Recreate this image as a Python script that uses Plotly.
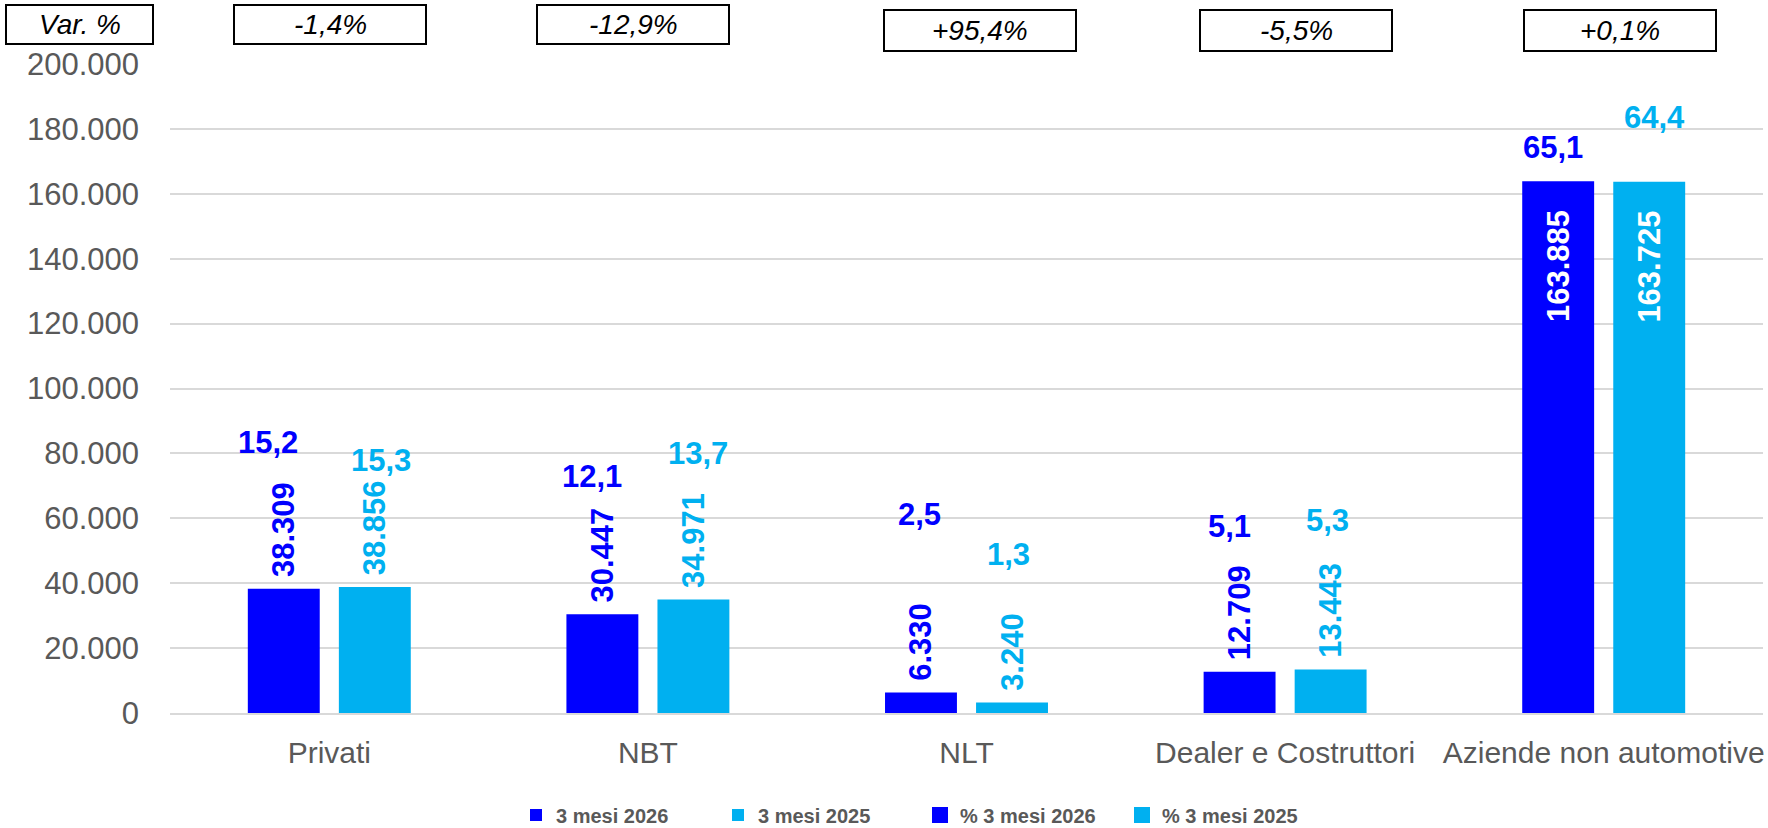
import plotly.graph_objects as go

# ---------------- data ----------------
categories = ["Privati", "NBT", "NLT", "Dealer e Costruttori", "Aziende non automotive"]
units_2026 = [38309, 30447, 6330, 12709, 163885]
units_2025 = [38856, 34971, 3240, 13443, 163725]
share_2026 = [15.2, 12.1, 2.5, 5.1, 65.1]
share_2025 = [15.3, 13.7, 1.3, 5.3, 64.4]
var_pct = [-1.4, -12.9, 95.4, -5.5, 0.1]
y_ticks = [0, 20000, 40000, 60000, 80000, 100000, 120000, 140000, 160000, 180000, 200000]

# ---------------- styling / layout constants ----------------
W, H = 1768, 828
ML, MR, MT, MB = 170, 5, 64, 115
PW, PH = W - ML - MR, H - MT - MB
DARK, LIGHT, GREY = "#0000FF", "#00B0F0", "#595959"
FONT = "Liberation Sans, Arial, sans-serif"
INSIDE_LIMIT = 150000          # values above this get their label inside the bar
# label placement (pixels above bar top, small horizontal nudges)
lift_2026 = [146, 138, 178, 145, 34]
lift_2025 = [126, 146, 148, 149, 64]
dx_2026 = [-16, -10, -2, -10, -5]
dx_2025 = [6, 5, -4, -3, 5]
HALF = 45.5                     # half distance between paired bar centres (px)


def it_num(v):
    return f"{v:,}".replace(",", ".")


def it_pct(v):
    return f"{v:.1f}".replace(".", ",")


def bar_text(vals):
    out = []
    for v in vals:
        if v > INSIDE_LIMIT:
            out.append(it_num(v) + "\u00a0\u00a0\u00a0")
        else:
            out.append("\u00a0" + it_num(v))
    return out


def positions(vals):
    return ["inside" if v > INSIDE_LIMIT else "outside" for v in vals]


fig = go.Figure()
fig.add_trace(go.Bar(
    x=categories, y=units_2026, name="3 mesi 2026",
    marker=dict(color=DARK, line=dict(width=0)),
    text=bar_text(units_2026), textposition=positions(units_2026),
    textangle=-90, insidetextanchor="end", constraintext="none",
    outsidetextfont=dict(color=DARK, size=31, family=FONT, weight="bold"),
    insidetextfont=dict(color="white", size=31, family=FONT, weight="bold"),
    cliponaxis=False, legendrank=1,
))
fig.add_trace(go.Bar(
    x=categories, y=units_2025, name="3 mesi 2025",
    marker=dict(color=LIGHT, line=dict(width=0)),
    text=bar_text(units_2025), textposition=positions(units_2025),
    textangle=-90, insidetextanchor="end", constraintext="none",
    outsidetextfont=dict(color=LIGHT, size=31, family=FONT, weight="bold"),
    insidetextfont=dict(color="white", size=31, family=FONT, weight="bold"),
    cliponaxis=False, legendrank=2,
))
# legend entries for the share series (labels drawn as annotations below)
fig.add_trace(go.Scatter(x=[None], y=[None], mode="markers", name="% 3 mesi 2026",
                         marker=dict(symbol="square", size=16, color=DARK), legendrank=3))
fig.add_trace(go.Scatter(x=[None], y=[None], mode="markers", name="% 3 mesi 2025",
                         marker=dict(symbol="square", size=16, color=LIGHT), legendrank=4))

annotations = []
for i, c in enumerate(categories):
    annotations.append(dict(
        x=c, y=units_2026[i], xref="x", yref="y", text=it_pct(share_2026[i]),
        showarrow=False, xanchor="center", yanchor="middle",
        xshift=-HALF + dx_2026[i], yshift=lift_2026[i],
        font=dict(color=DARK, size=31, family=FONT, weight="bold")))
    annotations.append(dict(
        x=c, y=units_2025[i], xref="x", yref="y", text=it_pct(share_2025[i]),
        showarrow=False, xanchor="center", yanchor="middle",
        xshift=HALF + dx_2025[i], yshift=lift_2025[i],
        font=dict(color=LIGHT, size=31, family=FONT, weight="bold")))

# "Var. %" boxes at the top (pixel layout -> paper coords)
def px_x(x):
    return (x - ML) / PW


def px_y(y):
    return (H - MB - y) / PH


boxes = [("Var. %", 6, 153, 5, 44)]
box_left = [234, 537, 884, 1200, 1524]
box_w = 192
box_top = [5, 5, 10, 10, 10]
box_bottom = [44, 44, 51, 51, 51]
for i, v in enumerate(var_pct):
    label = ("+" if v > 0 else "") + it_pct(v) + "%"
    boxes.append((label, box_left[i], box_left[i] + box_w, box_top[i], box_bottom[i]))

for label, x0, x1, y0, y1 in boxes:
    fig.add_shape(type="rect", xref="paper", yref="paper",
                  x0=px_x(x0), x1=px_x(x1), y0=px_y(y1), y1=px_y(y0),
                  line=dict(color="black", width=2), fillcolor="white", layer="above")
    annotations.append(dict(
        x=px_x((x0 + x1) / 2), y=px_y((y0 + y1) / 2), xref="paper", yref="paper",
        text=f"<i>{label}</i>", showarrow=False, xanchor="center", yanchor="middle",
        font=dict(color="black", size=28, family=FONT)))

fig.update_layout(
    width=W, height=H,
    margin=dict(l=ML, r=MR, t=MT, b=MB, autoexpand=False),
    paper_bgcolor="white", plot_bgcolor="white",
    separators=",.",
    barmode="group", bargap=0.4285, bargroupgap=0.21,
    font=dict(family=FONT, color=GREY),
    annotations=annotations,
    showlegend=True,
    legend=dict(orientation="h", x=px_x(516), xanchor="left", y=px_y(815), yanchor="middle",
                font=dict(size=20, color=GREY, family=FONT, weight="bold"),
                traceorder="normal", entrywidth=157, entrywidthmode="pixels",
                bgcolor="rgba(0,0,0,0)"),
    xaxis=dict(showgrid=False, showline=True, linecolor="#d9d9d9", linewidth=2,
               ticks="", tickfont=dict(size=30, color=GREY, family=FONT),
               ticklabelstandoff=12, automargin=False, fixedrange=True),
    yaxis=dict(range=[0, 200000], tickvals=y_ticks, tickformat=",d",
               showgrid=True, gridcolor="#d9d9d9", gridwidth=2,
               zeroline=False, showline=False, ticks="",
               tickfont=dict(size=31, color=GREY, family=FONT),
               ticklabelstandoff=30, automargin=False, fixedrange=True),
)

fig.write_html("out.html", config={"displayModeBar": False},
               post_script="document.body.style.margin='0';document.body.style.overflow='hidden';")
